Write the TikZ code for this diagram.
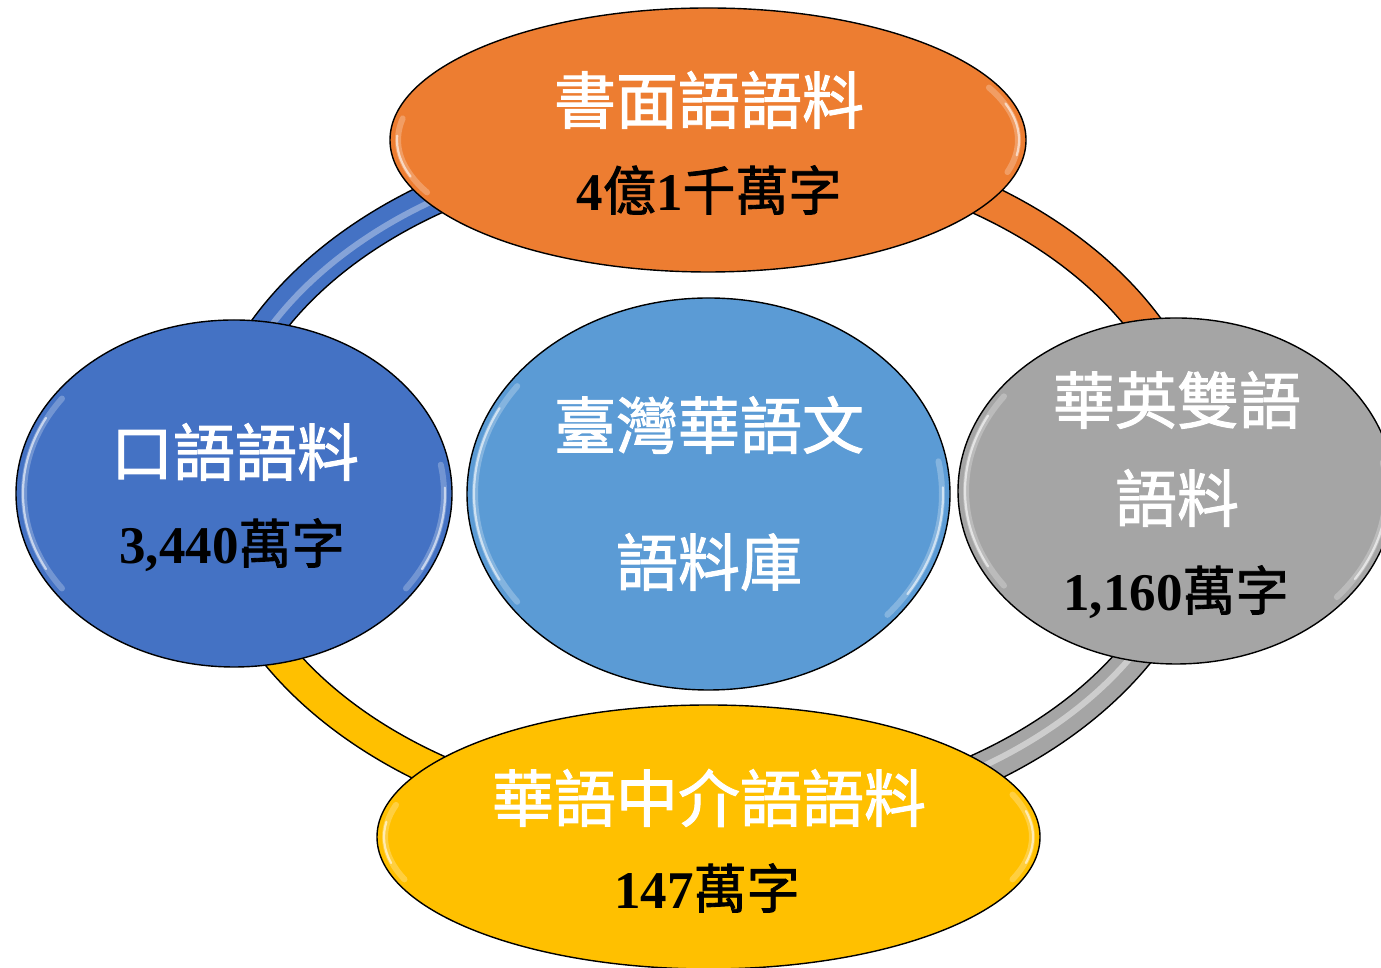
\documentclass[tikz,border=0pt]{standalone}
\usepackage{fontspec}
\setmainfont{Liberation Serif}
\newfontfamily\cjk{Noto Sans CJK TC}[FakeBold=1.6]
\usetikzlibrary{shapes.geometric}
\definecolor{cOrange}{HTML}{ED7D31}
\definecolor{cBlue}{HTML}{4472C4}
\definecolor{cLight}{HTML}{5B9BD5}
\definecolor{cGray}{HTML}{A5A5A5}
\definecolor{cGold}{HTML}{FFC000}
\tikzset{
  blob/.style={ellipse, draw=black, line width=1.4pt, inner sep=0pt},
  band/.style={draw=black, line width=1.4pt},
  title/.style={text=white, font=\cjk\fontsize{62}{70}\selectfont, inner sep=0pt},
  count/.style={text=black, font=\fontsize{53}{60}\selectfont, inner sep=0pt},
  glaresoft/.style={white, line width=6pt, line cap=round, opacity=0.25},
  glare/.style={white, line width=2.2pt, line cap=round, opacity=0.6},
}
\newcommand\ringband[3]{%
  \path[band, fill=#3, shift={(707,484)}]
    (#1:511 and 360) arc[start angle=#1, end angle=#2, x radius=511, y radius=360]
    -- (#2:478 and 326) arc[start angle=#2, end angle=#1, x radius=478, y radius=326] -- cycle;}
\newcommand\glarearc[6]{%
  \draw[glaresoft, shift={(#1,#2)}] (#5:{#3-8} and {#4-8})
    arc[start angle=#5, end angle=#6, x radius=#3-8, y radius=#4-8];
  \draw[glare, shift={(#1,#2)}] (#5+8:{#3-7} and {#4-7})
    arc[start angle=#5+8, end angle=#6-8, x radius=#3-7, y radius=#4-7];}
\newcommand\bnum[1]{{\bfseries #1}}
\newcommand\bcjk[1]{{\cjk #1}}
\begin{document}
\begin{tikzpicture}[x=1pt, y=1pt]
\useasboundingbox (0,0) rectangle (1381,968);
\clip (0,0) rectangle (1381,968);
% ring
\ringband{90}{180}{cBlue}
\ringband{0}{90}{cOrange}
\ringband{270}{360}{cGray}
\ringband{180}{270}{cGold}
\draw[white, opacity=0.35, line width=6pt, shift={(707,484)}] (95:492 and 341) arc[start angle=95, end angle=175, x radius=492, y radius=341];
\draw[white, opacity=0.45, line width=6pt, shift={(707,484)}] (275:492 and 341) arc[start angle=275, end angle=355, x radius=492, y radius=341];
% ellipses
\node[blob, fill=cOrange, minimum width=636pt, minimum height=264pt] (top) at (708,828) {};
\node[blob, fill=cBlue, minimum width=436pt, minimum height=347pt] (left) at (234,474.5) {};
\node[blob, fill=cLight, minimum width=483pt, minimum height=392pt] (mid) at (708.5,474) {};
\node[blob, fill=cGray, minimum width=436pt, minimum height=346pt] (right) at (1176,477) {};
\node[blob, fill=cGold, minimum width=663pt, minimum height=264pt] (bottom) at (708.5,131) {};
% glare
\glarearc{708}{828}{318}{132}{170}{205}
\glarearc{708}{828}{318}{132}{345}{385}
\glarearc{234}{474.5}{218}{173.5}{145}{215}
\glarearc{234}{474.5}{218}{173.5}{325}{370}
\glarearc{708.5}{474}{241.5}{196}{145}{215}
\glarearc{708.5}{474}{241.5}{196}{320}{370}
\glarearc{1176}{477}{218}{173}{145}{215}
\glarearc{1176}{477}{218}{173}{320}{370}
\glarearc{708.5}{131}{331.5}{132}{165}{200}
\glarearc{708.5}{131}{331.5}{132}{340}{380}
% texts
\node[title] (t1) at (709,868) {書面語語料};
\node[count] (c1) at (709,778) {\bnum{4}\bcjk{億}\bnum{1}\bcjk{千萬字}};
\node[title] (t2) at (235,516) {口語語料};
\node[count] (c2) at (232,423) {\bnum{3,440}\bcjk{萬字}};
\node[title] (t3) at (709,543) {臺灣華語文};
\node[title] (t3b) at (709,406) {語料庫};
\node[title] (t4) at (1177,568) {華英雙語};
\node[title] (t4b) at (1177,470) {語料};
\node[count] (c4) at (1176,376) {\bnum{1,160}\bcjk{萬字}};
\node[title] (t5) at (709,170) {華語中介語語料};
\node[count] (c5) at (707,80) {\bnum{147}\bcjk{萬字}};
\end{tikzpicture}
\end{document}
